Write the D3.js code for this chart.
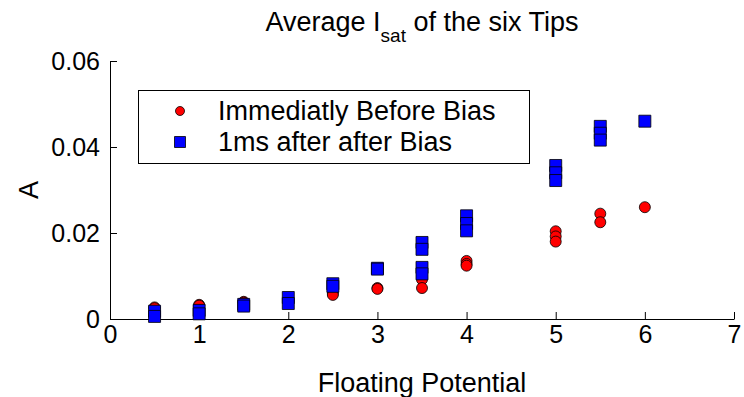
<!DOCTYPE html>
<html>
<head>
<meta charset="utf-8">
<script src="https://cdn.jsdelivr.net/npm/d3@7"></script>
<style>
  html, body { margin: 0; padding: 0; background: #fff; }
  svg text { font-family: "Liberation Sans", Arial, Helvetica, sans-serif; fill: #000; }
</style>
</head>
<body>
<svg id="chart" width="744" height="397"></svg>
<script>
// Saturation current averaged over the six tips, per floating potential
const beforeX = [0.5, 0.5, 1, 1, 1.5, 1.5, 2, 2, 2.5, 2.5, 3, 3, 3.5, 3.5, 4, 4, 4, 5, 5, 5, 5.5, 5.5, 6];
const beforeY = [0.0027, 0.0025, 0.0033, 0.0031, 0.0040, 0.0038, 0.0045, 0.0042, 0.0060, 0.0056, 0.0072, 0.0070,
                 0.0092, 0.0072, 0.0135, 0.0128, 0.0124, 0.0204, 0.0192, 0.0180, 0.0245, 0.0225, 0.0260];

const afterX = [0.5, 0.5, 1, 1, 1.5, 1.5, 2, 2, 2.5, 2.5, 3, 3, 3.5, 3.5, 3.5, 3.5, 4, 4, 4, 5, 5, 5, 5.5, 5.5, 5.5, 6];
const afterY = [0.0018, 0.0006, 0.0020, 0.0012, 0.0034, 0.0030, 0.0050, 0.0036, 0.0082, 0.0076, 0.0118, 0.0116,
                0.0178, 0.0162, 0.0120, 0.0105, 0.0240, 0.0222, 0.0205, 0.0357, 0.0340, 0.0322, 0.0448, 0.0432, 0.0416, 0.0460];

const xTicks = [0, 1, 2, 3, 4, 5, 6, 7];
const yTicks = [0, 0.02, 0.04, 0.06];
const seriesNames = ["Immediatly Before Bias", "1ms after after Bias"];

const svg = d3.select("#chart");
const plotL = 110, plotR = 734, plotT = 61, plotB = 319;
const tickFs = 25, labelFs = 27;

const x = d3.scaleLinear().domain([0, 7]).range([plotL, plotR]);
const y = d3.scaleLinear().domain([0, 0.06]).range([plotB, plotT]);

// Axes with inward ticks
const xAxis = d3.axisBottom(x).tickValues(xTicks).tickFormat(d3.format("d")).tickSizeInner(-7).tickSizeOuter(0).tickPadding(6);
const yAxis = d3.axisLeft(y).tickValues(yTicks).tickFormat(d => d === 0 ? "0" : d3.format(".2f")(d)).tickSizeInner(-7).tickSizeOuter(0).tickPadding(10);

const gx = svg.append("g").attr("transform", `translate(0,${plotB})`).call(xAxis);
const gy = svg.append("g").attr("transform", `translate(${plotL},0)`).call(yAxis);
[gx, gy].forEach(g => {
  g.select(".domain").attr("stroke", "#000").attr("stroke-width", 1);
  g.selectAll(".tick line").attr("stroke", "#000");
  g.selectAll(".tick text").style("font-size", tickFs + "px").attr("fill", "#000");
});

// Markers: circles first, squares drawn on top
const circ = d3.symbol().type(d3.symbolCircle).size(Math.PI * 5.5 * 5.5);
svg.append("g").selectAll("path").data(beforeX.map((d, i) => [d, beforeY[i]]))
  .join("path")
  .attr("d", circ)
  .attr("transform", d => `translate(${x(d[0])},${y(d[1])})`)
  .attr("fill", "#ff0000").attr("stroke", "#000").attr("stroke-width", 0.8);

const sq = d3.symbol().type(d3.symbolSquare).size(12 * 12);
svg.append("g").selectAll("path").data(afterX.map((d, i) => [d, afterY[i]]))
  .join("path")
  .attr("d", sq)
  .attr("transform", d => `translate(${x(d[0])},${y(d[1])})`)
  .attr("fill", "#0000ff").attr("stroke", "#000").attr("stroke-width", 0.8);

// Title with subscript
const title = svg.append("text").attr("x", (plotL + plotR) / 2).attr("y", 31)
  .attr("text-anchor", "middle").style("font-size", labelFs + "px");
title.append("tspan").text("Average I");
title.append("tspan").attr("dy", 11).style("font-size", "19px").text("sat");
title.append("tspan").attr("dy", -11).text(" of the six Tips");

// Axis labels
svg.append("text").attr("x", (plotL + plotR) / 2).attr("y", 392)
  .attr("text-anchor", "middle").style("font-size", labelFs + "px").text("Floating Potential");
svg.append("text").attr("transform", `translate(38,${(plotT + plotB) / 2}) rotate(-90)`)
  .attr("text-anchor", "middle").style("font-size", labelFs + "px").text("A");

// Legend
const lg = svg.append("g");
lg.append("rect").attr("x", 138.5).attr("y", 90.5).attr("width", 391).attr("height", 73)
  .attr("fill", "#fff").attr("stroke", "#000").attr("stroke-width", 1);
const rows = [111, 142];
lg.append("path").attr("d", d3.symbol().type(d3.symbolCircle).size(Math.PI * 4.5 * 4.5))
  .attr("transform", `translate(180,${rows[0]})`).attr("fill", "#ff0000").attr("stroke", "#000").attr("stroke-width", 0.8);
lg.append("path").attr("d", d3.symbol().type(d3.symbolSquare).size(11 * 11))
  .attr("transform", `translate(180,${rows[1]})`).attr("fill", "#0000ff").attr("stroke", "#000").attr("stroke-width", 0.8);
seriesNames.forEach((t, i) => {
  lg.append("text").attr("x", 218).attr("y", rows[i]).attr("dy", "0.35em")
    .style("font-size", labelFs + "px").text(t);
});
</script>
</body>
</html>
